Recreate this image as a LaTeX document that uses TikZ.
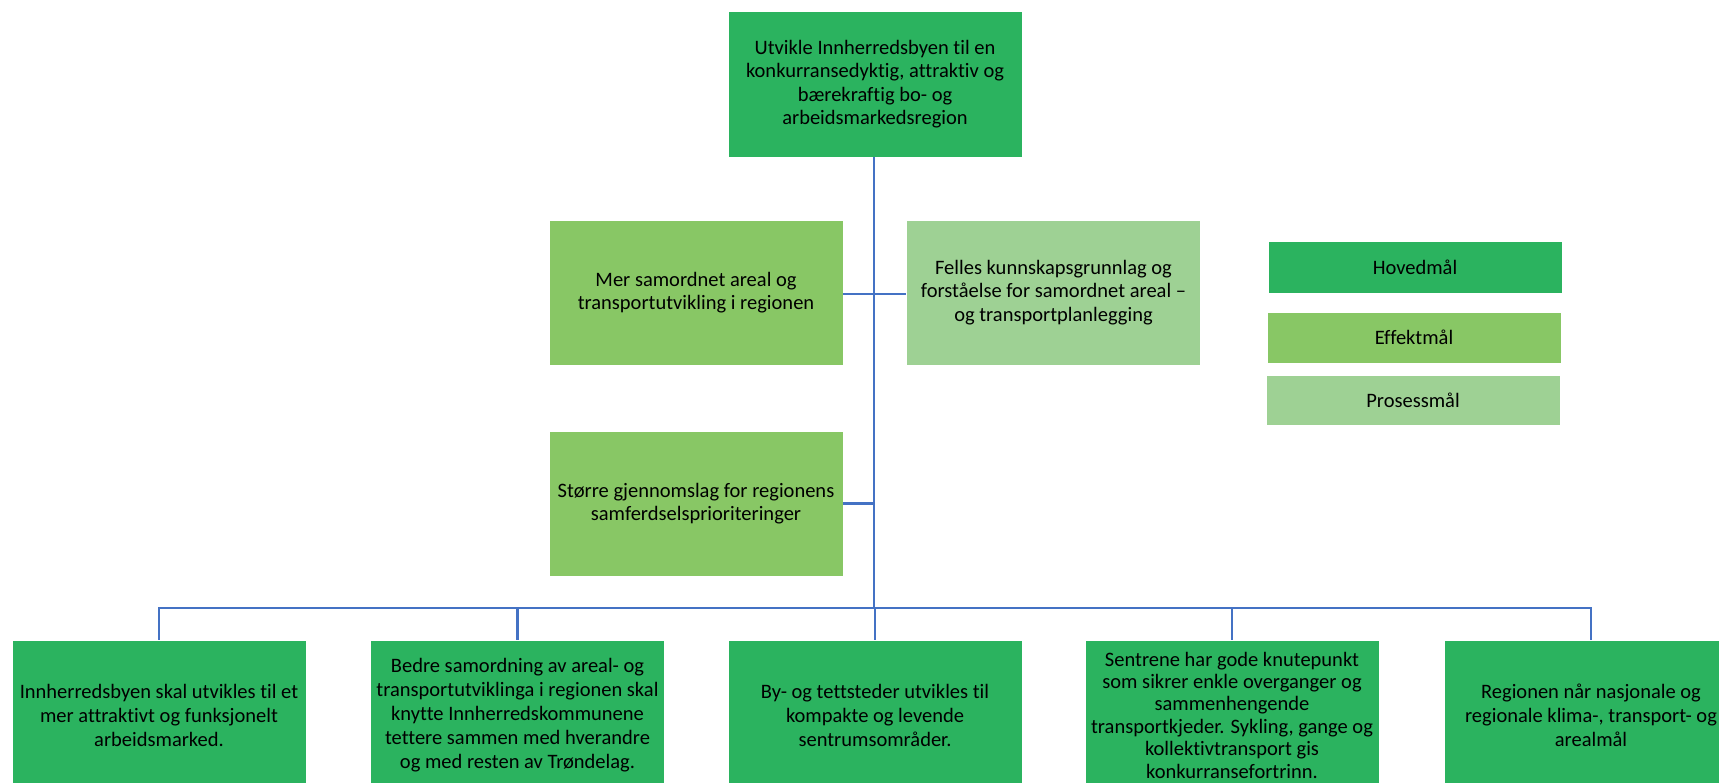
\documentclass[tikz,border=0pt]{standalone}
\usepackage{fontspec}
\setmainfont{Carlito}[Ligatures=NoCommon]
\definecolor{hoved}{HTML}{2BB35F}
\definecolor{effekt}{HTML}{88C765}
\definecolor{prosess}{HTML}{9ED194}
\definecolor{linkblue}{HTML}{4472C4}
\begin{document}
\begin{tikzpicture}[x=1pt,y=-1pt,
  goal/.style={draw=white,line width=0.6pt,inner sep=0pt,align=center,
    minimum width=294pt,font=\fontsize{20.5}{23.5}\selectfont},
  mainbox/.style={goal,fill=hoved,minimum height=146pt},
  effectbox/.style={goal,fill=effekt,minimum height=145pt},
  processbox/.style={goal,fill=prosess,minimum height=145pt},
  subbox/.style={goal,fill=hoved,minimum height=150pt,font=\fontsize{20.5}{24}\selectfont},
  keybox/.style={goal,minimum height=51pt},
  link/.style={draw=linkblue,line width=2.2pt}]
\useasboundingbox (0,0) rectangle (1719,782);
\clip (0,0) rectangle (1719,782);

% main goal
\node[mainbox] (main) at (875,84) {Utvikle Innherredsbyen til en\\konkurransedyktig, attraktiv og\\bærekraftig bo- og\\arbeidsmarkedsregion};

% effect and process goals
\node[effectbox] (areal) at (696,292.5) {Mer samordnet areal og\\transportutvikling i regionen};
\node[processbox] (felles) at (1053.5,292.5) {Felles kunnskapsgrunnlag og\\forståelse for samordnet areal –\\og transportplanlegging};
\node[effectbox] (gjennom) at (696,503.5) {Større gjennomslag for regionens\\samferdselsprioriteringer};

% sub goals
\node[subbox] (s1) at (159,715) {Innherredsbyen skal utvikles til et\\mer attraktivt og funksjonelt\\arbeidsmarked.};
\node[subbox] (s2) at (517.5,715) {Bedre samordning av areal- og\\transportutviklinga i regionen skal\\knytte Innherredskommunene\\tettere sammen med hverandre\\og med resten av Trøndelag.};
\node[subbox] (s3) at (875,715) {By- og tettsteder utvikles til\\kompakte og levende\\sentrumsområder.};
\node[subbox,font=\fontsize{20.5}{22.4}\selectfont] (s4) at (1232,715) {Sentrene har gode knutepunkt\\som sikrer enkle overganger og\\sammenhengende\\transportkjeder. Sykling, gange og\\kollektivtransport gis\\konkurransefortrinn.};
\node[subbox] (s5) at (1591,715) {Regionen når nasjonale og\\regionale klima-, transport- og\\arealmål};

% legend
\node[keybox,fill=hoved,minimum height=52pt] (kh) at (1415,267.5) {Hovedmål};
\node[keybox,fill=effekt] (ke) at (1414,337.5) {Effektmål};
\node[keybox,fill=prosess,minimum height=50pt] (kp) at (1413,400.5) {Prosessmål};

% connectors
\coordinate (bus) at (874,608);
\coordinate (spine1) at (874,294);
\coordinate (spine2) at (874,503.5);
\draw[link] (main.south -| bus) -- (bus);
\draw[link] (areal.east |- spine1) -- (felles.west |- spine1);
\draw[link] (gjennom.east) -- (spine2);
\draw[link] (bus) -| (s1.north);
\draw[link] (bus) -| (s2.north);
\draw[link] (bus) -| (s3.north);
\draw[link] (bus) -| (s4.north);
\draw[link] (bus) -| (s5.north);
\end{tikzpicture}
\end{document}
